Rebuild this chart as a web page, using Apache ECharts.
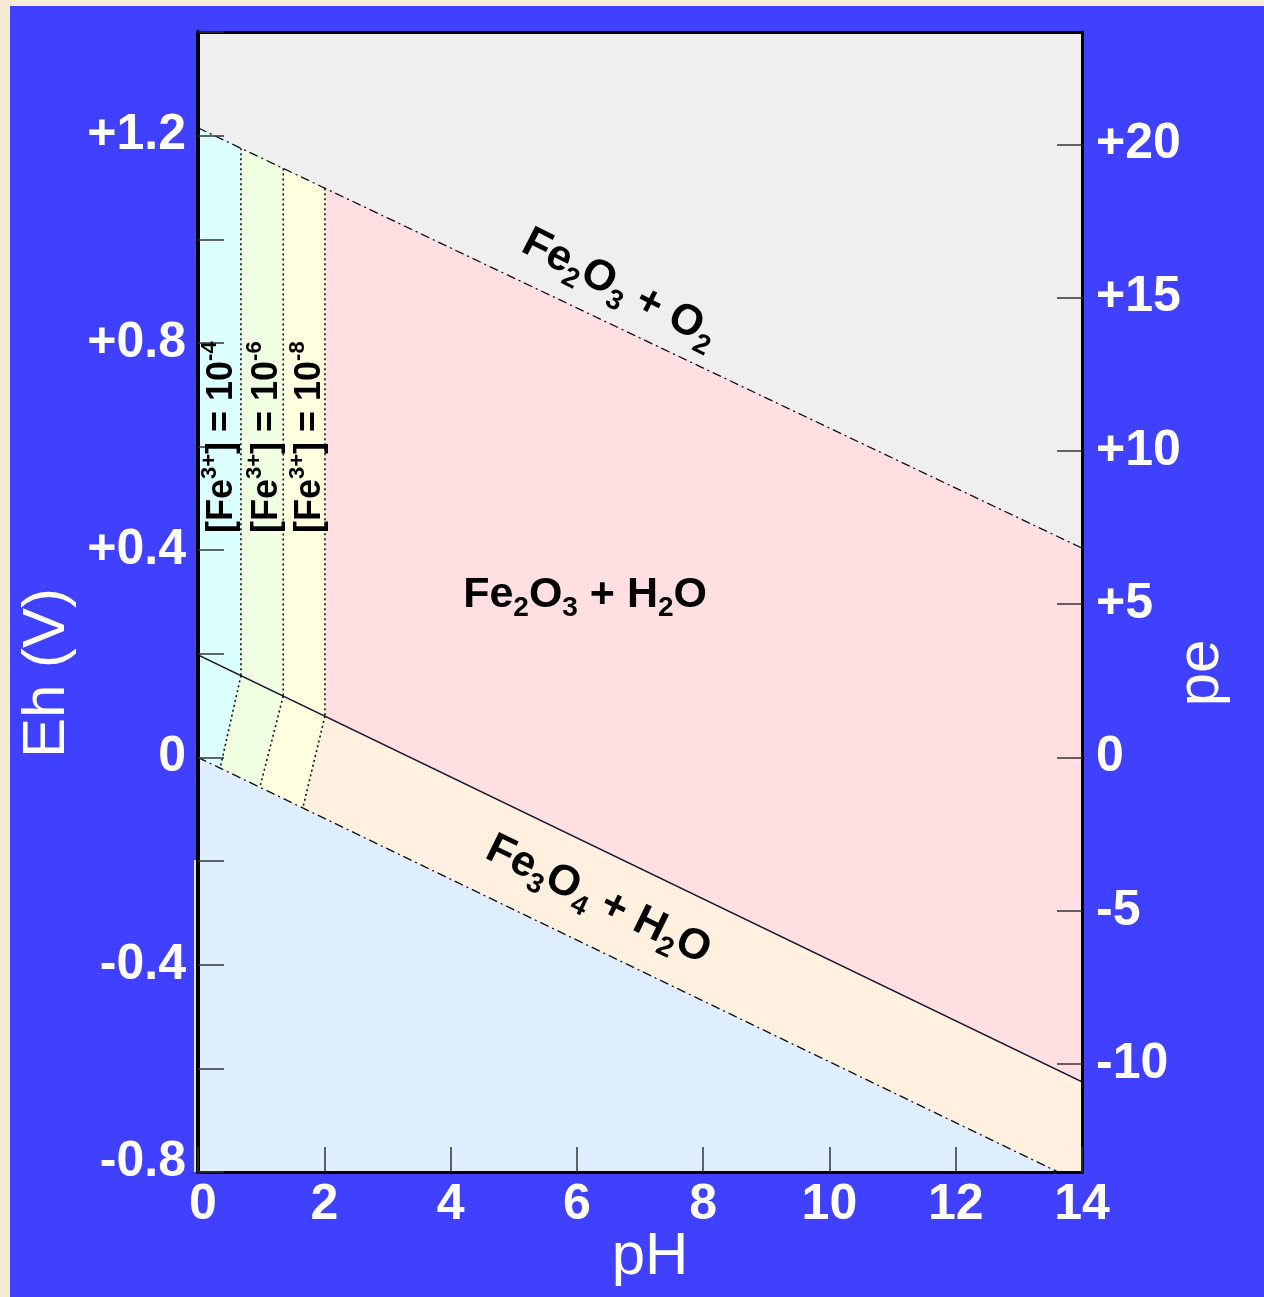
<!DOCTYPE html>
<html><head><meta charset="utf-8">
<script src="https://cdn.jsdelivr.net/npm/echarts@6/dist/echarts.min.js"></script>
<style>html,body{margin:0;padding:0;background:#f6ead4;}#c{width:1264px;height:1297px;}</style>
</head><body><div id="c"></div>
<script>
// ---- data ----
const phRange = [0, 14];
const ehRange = [-0.8, 1.4];
const phTicks = [0, 2, 4, 6, 8, 10, 12, 14];
const ehLabelValues = [-0.8, -0.4, 0, 0.4, 0.8, 1.2];
const ehLabelTexts = ['-0.8', '-0.4', '0', '+0.4', '+0.8', '+1.2'];
const peTicks = [-10, -5, 0, 5, 10, 15, 20];
const peLabelTexts = ['-10', '-5', '0', '+5', '+10', '+15', '+20'];
const nernst = 0.05916; // V per pe unit
const o2Line = [[0, 1.215], [14, 0.404]];        // upper water stability limit
const h2Line = [[0, 0.0], [13.62, -0.8]];        // lower water stability limit
const hemMagLine = [[0, 0.198], [14, -0.626]];   // Fe2O3 / Fe3O4 boundary
const fe3TopPH = [0.68, 1.35, 2.01];             // Fe3+ / Fe2O3 boundaries
const fe3BottomPH = [0.35, 0.98, 1.66];          // Fe3+ / Fe3O4 boundaries at the lower water line
const fe3Exponents = ['-4', '-6', '-8'];

const FONT = "'Liberation Sans', Arial, Helvetica, sans-serif";

function at(line, ph) {
  const [a, b] = line;
  return a[1] + (b[1] - a[1]) * (ph - a[0]) / (b[0] - a[0]);
}
const P = (line, ph) => [ph, at(line, ph)];

// ---- regions built from the boundaries ----
const regions = [
  { color: '#efefef', pts: [[0, ehRange[1]], [14, ehRange[1]], o2Line[1], o2Line[0]] },
  { color: '#dfeeff', pts: [h2Line[0], h2Line[1], [0, ehRange[0]]] },
  { color: '#ffdfe1', pts: [P(o2Line, fe3TopPH[2]), o2Line[1], hemMagLine[1], P(hemMagLine, fe3TopPH[2])] },
  { color: '#fff0e0', pts: [P(hemMagLine, fe3TopPH[2]), hemMagLine[1], [14, ehRange[0]], h2Line[1], P(h2Line, fe3BottomPH[2])] },
  { color: '#dcffff', pts: [o2Line[0], P(o2Line, fe3TopPH[0]), P(hemMagLine, fe3TopPH[0]), P(h2Line, fe3BottomPH[0]), h2Line[0]] },
  { color: '#f0ffe2', pts: [P(o2Line, fe3TopPH[0]), P(o2Line, fe3TopPH[1]), P(hemMagLine, fe3TopPH[1]), P(h2Line, fe3BottomPH[1]), P(h2Line, fe3BottomPH[0]), P(hemMagLine, fe3TopPH[0])] },
  { color: '#ffffe0', pts: [P(o2Line, fe3TopPH[1]), P(o2Line, fe3TopPH[2]), P(hemMagLine, fe3TopPH[2]), P(h2Line, fe3BottomPH[2]), P(h2Line, fe3BottomPH[1]), P(hemMagLine, fe3TopPH[1])] }
];

const dashDot = [9, 4, 2, 4];
const dotted = [2, 3];
const lines = [
  { pts: o2Line, dash: dashDot, w: 1.3, c: '#111' },
  { pts: h2Line, dash: dashDot, w: 1.3, c: '#111' },
  { pts: hemMagLine, dash: null, w: 1.4, c: '#151530' }
];
fe3TopPH.forEach((ph, i) => {
  lines.push({ pts: [P(o2Line, ph), P(hemMagLine, ph)], dash: dotted, w: 1.6, c: '#111' });
  lines.push({ pts: [P(hemMagLine, ph), P(h2Line, fe3BottomPH[i])], dash: dotted, w: 1.6, c: '#111' });
});

const chart = echarts.init(document.getElementById('c'), null, { renderer: 'canvas' });

const tickLabelStyle = { color: '#fff', fontSize: 50, fontWeight: 'bold', fontFamily: FONT };
const edgeRich = {
  lo: { color: '#fff', fontSize: 50, fontWeight: 'bold', fontFamily: FONT, padding: [0, 0, 20, 0] },
  x0: { color: '#fff', fontSize: 50, fontWeight: 'bold', fontFamily: FONT, padding: [0, 0, 0, 10] }
};

chart.setOption({
  animation: false,
  backgroundColor: '#4040ff',
  grid: { left: 198, right: 182, top: 32, bottom: 125, containLabel: false },
  xAxis: [
    {
      type: 'value', min: phRange[0], max: phRange[1], interval: 2, position: 'bottom', z: 10,
      axisLine: { show: true, onZero: false, lineStyle: { color: '#000', width: 3 } },
      axisTick: { show: true, inside: true, length: 25, lineStyle: { color: '#333', width: 1.5 } },
      axisLabel: Object.assign({ margin: 8, rich: edgeRich,
        formatter: v => { const t = phTicks.find(t => Math.abs(t - v) < 1e-6); if (t === undefined) return ''; return t === phRange[0] ? '{x0|' + t + '}' : String(t); } }, tickLabelStyle),
      splitLine: { show: false }
    },
    {
      type: 'value', min: phRange[0], max: phRange[1], position: 'top', z: 10,
      axisLine: { show: true, onZero: false, lineStyle: { color: '#000', width: 3 } },
      axisTick: { show: false }, axisLabel: { show: false }, splitLine: { show: false }
    }
  ],
  yAxis: [
    {
      type: 'value', min: ehRange[0], max: ehRange[1], interval: 0.2, position: 'left', z: 10,
      axisLine: { show: true, onZero: false, lineStyle: { color: '#000', width: 4 } },
      axisTick: { show: true, inside: true, length: 26, lineStyle: { color: '#333', width: 1.5 } },
      axisLabel: Object.assign({
        margin: 12, customValues: ehLabelValues, rich: edgeRich,
        formatter: v => { const i = ehLabelValues.findIndex(t => Math.abs(t - v) < 1e-6); if (i < 0) return ''; return i === 0 ? '{lo|' + ehLabelTexts[i] + '}' : ehLabelTexts[i]; }
      }, tickLabelStyle),
      splitLine: { show: false }
    },
    {
      type: 'value', min: ehRange[0] / nernst, max: ehRange[1] / nernst, position: 'right', z: 10,
      axisLine: { show: true, onZero: false, lineStyle: { color: '#000', width: 3 } },
      axisTick: { show: true, inside: true, length: 25, customValues: peTicks, lineStyle: { color: '#333', width: 1.5 } },
      axisLabel: Object.assign({
        margin: 14, customValues: peTicks,
        formatter: v => { const i = peTicks.findIndex(t => Math.abs(t - v) < 1e-6); return i >= 0 ? peLabelTexts[i] : ''; }
      }, tickLabelStyle),
      splitLine: { show: false }
    }
  ],
  series: [
    {
      type: 'custom', name: 'regions', xAxisIndex: 0, yAxisIndex: 0, z: 1, clip: true,
      data: regions.map((r, i) => [i]),
      renderItem: (params, api) => {
        const r = regions[api.value(0)];
        return { type: 'polygon', shape: { points: r.pts.map(p => api.coord(p)) }, style: { fill: r.color, stroke: r.color, lineWidth: 0.6 } };
      }
    },
    {
      type: 'custom', name: 'boundaries', xAxisIndex: 0, yAxisIndex: 0, z: 3, clip: true,
      data: lines.map((l, i) => [i]),
      renderItem: (params, api) => {
        const l = lines[api.value(0)];
        return { type: 'polyline', shape: { points: l.pts.map(p => api.coord(p)) },
          style: { stroke: l.c, lineWidth: l.w, lineDash: l.dash || null, fill: null } };
      }
    }
  ]
});

// ---- annotations placed at data coordinates ----
const px = (ph, eh) => chart.convertToPixel({ xAxisIndex: 0, yAxisIndex: 0 }, [ph, eh]);
const mainRich = (size) => ({
  b: { fontSize: size, fontWeight: 'bold', fontFamily: FONT, fill: '#000', lineHeight: Math.round(size * 1.3) },
  s: { fontSize: Math.round(size * 0.66), fontWeight: 'bold', fontFamily: FONT, fill: '#000', lineHeight: Math.round(size * 0.66), verticalAlign: 'bottom' },
  u: { fontSize: Math.round(size * 0.62), fontWeight: 'bold', fontFamily: FONT, fill: '#000', lineHeight: Math.round(size * 0.62), verticalAlign: 'top' }
});
const annotations = [
  { text: '{b|Fe}{s|2}{b|O}{s|3}{b| + H}{s|2}{b|O}', at: [6.13, 0.314], rot: 0, size: 43, align: 'center' },
  { text: '{b|Fe}{s|2}{b|O}{s|3}{b| + O}{s|2}', at: [6.68, 0.905], rot: -27, size: 43, align: 'center' },
  { text: '{b|Fe}{s|3}{b|O}{s|4}{b| + H}{s|2}{b|O}', at: [6.34, -0.275], rot: -26, size: 43, align: 'center' }
];
const fe3LabelPH = [0.38, 1.1, 1.78];
fe3Exponents.forEach((e, i) => {
  annotations.push({ text: '{b|[Fe}{u|3+}{b|] = 10}{u|' + e + '}', at: [fe3LabelPH[i], 0.433], rot: 90, size: 36, align: 'left' });
});

const graphics = [
  { type: 'rect', shape: { x: 0, y: 0, width: 1264, height: 6 }, style: { fill: '#f6ead4' }, z: 50 },
  { type: 'rect', shape: { x: 0, y: 0, width: 10, height: 1297 }, style: { fill: '#f6ead4' }, z: 50 },
  { type: 'line', shape: { x1: 195, y1: 860, x2: 195, y2: 1172 }, style: { stroke: '#dcdcff', lineWidth: 2 }, z: 50 },
  { type: 'text', x: 47, y: 673, rotation: Math.PI / 2, z: 50,
    style: { text: 'Eh (V)', fill: '#fff', fontSize: 60, fontFamily: FONT, align: 'center', verticalAlign: 'middle' } },
  { type: 'text', x: 1201, y: 673, rotation: Math.PI / 2, z: 50,
    style: { text: 'pe', fill: '#fff', fontSize: 60, fontFamily: FONT, align: 'center', verticalAlign: 'middle' } },
  { type: 'text', x: 650, y: 1257, z: 50,
    style: { text: 'pH', fill: '#fff', fontSize: 60, fontFamily: FONT, align: 'center', verticalAlign: 'middle' } }
];
annotations.forEach(a => {
  const p = px(a.at[0], a.at[1]);
  graphics.push({ type: 'text', x: p[0], y: p[1], rotation: a.rot * Math.PI / 180, z: 60,
    style: { text: a.text, rich: mainRich(a.size), align: a.align, verticalAlign: 'middle' } });
});
chart.setOption({ graphic: graphics });
</script>
</body></html>
